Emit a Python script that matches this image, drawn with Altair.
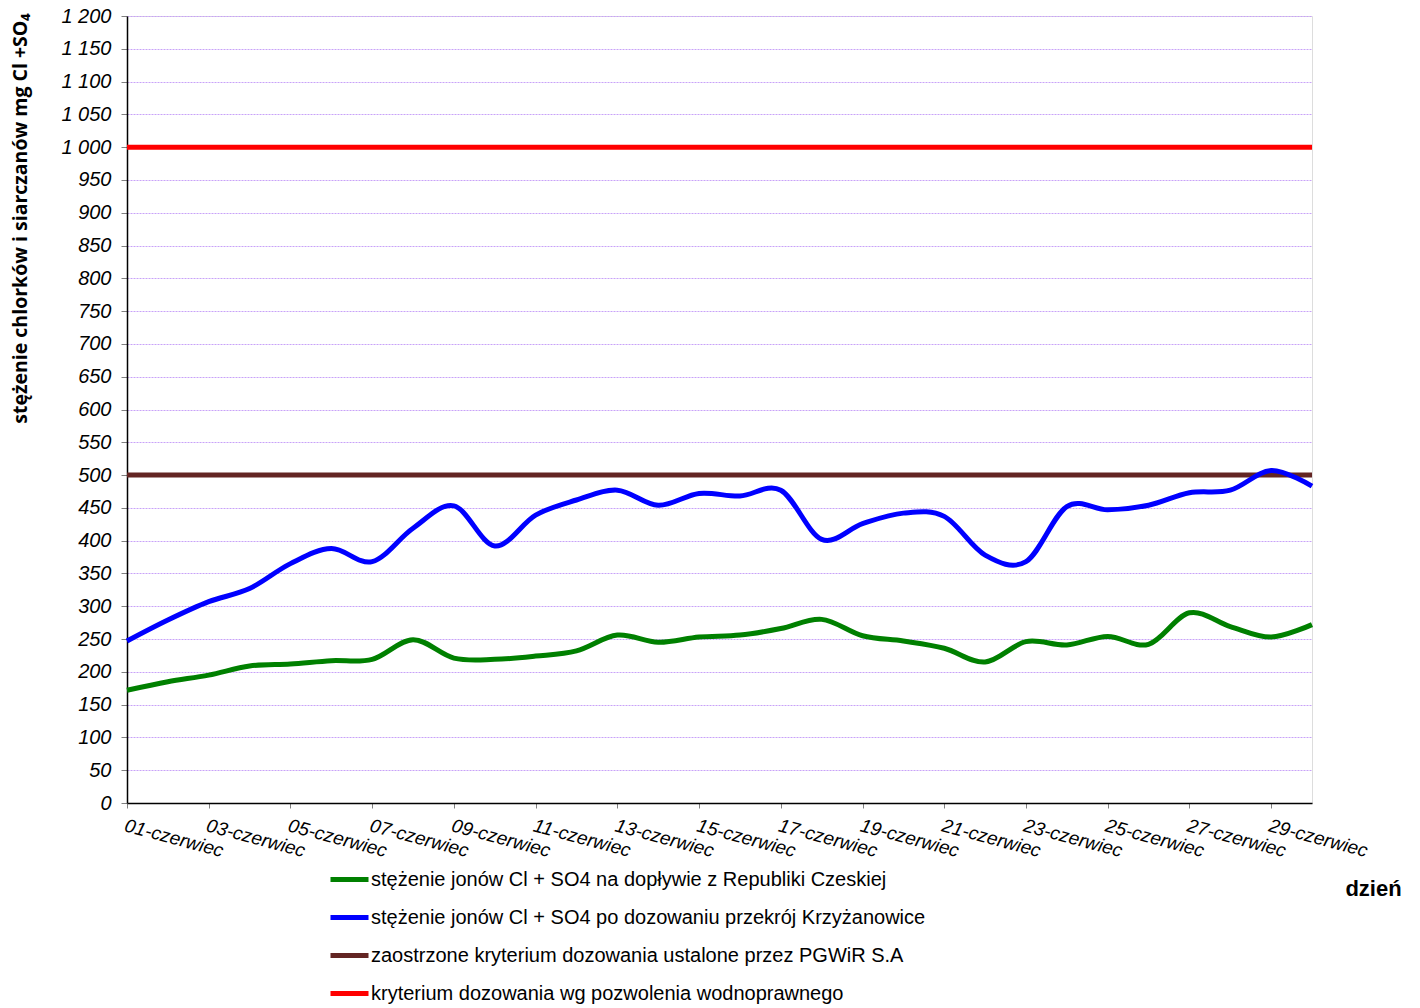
import altair as alt
import pandas as pd

days = list(range(1, 31))

green_vals = [172, 185, 195, 209, 212, 217, 219, 249, 221, 219,
              224, 232, 256, 245, 253, 256, 266, 280, 255, 247,
              236, 215, 246, 241, 254, 242, 290, 269, 253, 272]

blue_vals = [247, 279, 307, 327, 365, 388, 368, 419, 453, 392,
             439, 462, 477, 454, 472, 468, 477, 402, 426, 442,
             437, 378, 368, 452, 447, 454, 473, 477, 507, 483]

limit_pgwir = 500
limit_permit = 1000

s_green = "stężenie jonów Cl + SO4 na dopływie z Republiki Czeskiej"
s_blue = "stężenie jonów Cl + SO4 po dozowaniu przekrój Krzyżanowice"
s_brown = "zaostrzone kryterium dozowania ustalone przez PGWiR S.A"
s_red = "kryterium dozowania wg pozwolenia wodnoprawnego"

series_order = [s_green, s_blue, s_brown, s_red]
series_colors = ["#008000", "#0000FF", "#632523", "#FF0000"]

y_ticks = list(range(0, 1201, 50))
x_ticks = list(range(1, 30, 2))

const_df = pd.DataFrame({
    "day": [1, 30, 1, 30],
    "value": [limit_permit, limit_permit, limit_pgwir, limit_pgwir],
    "series": [s_red, s_red, s_brown, s_brown],
})

series_df = pd.DataFrame({
    "day": days + days,
    "value": green_vals + blue_vals,
    "series": [s_green] * len(days) + [s_blue] * len(days),
})

label_font = "Liberation Sans"

x_enc = alt.X(
    "day:Q",
    scale=alt.Scale(domain=[1, 30], nice=False, zero=False),
    axis=alt.Axis(
        values=x_ticks,
        labelExpr="(datum.value < 10 ? '0' : '') + datum.value + '-czerwiec'",
        labelAngle=15,
        labelAlign="left",
        labelBaseline="top",
        labelPadding=8,
        labelFont=label_font,
        labelFontStyle="italic",
        labelFontSize=19,
        labelColor="#000000",
        labelOverlap=False,
        labelFlush=False,
        tickSize=5,
        tickColor="#808080",
        domainColor="#000000",
        domainWidth=1.5,
        grid=False,
        title="dzień",
        titleFont=label_font,
        titleFontSize=22,
        titleFontWeight="bold",
        titleColor="#000000",
        titleX=1246,
        titleY=85,
        titleAlign="center",
        titleBaseline="middle",
    ),
)

y_enc = alt.Y(
    "value:Q",
    scale=alt.Scale(domain=[0, 1200], nice=False),
    axis=alt.Axis(
        values=y_ticks,
        labelExpr="replace(format(datum.value, ','), ',', ' ')",
        labelFont=label_font,
        labelFontStyle="italic",
        labelFontSize=20,
        labelColor="#000000",
        labelPadding=10,
        tickSize=6,
        tickColor="#808080",
        domainColor="#000000",
        domainWidth=1.5,
        grid=True,
        gridColor="#c8a2f8",
        gridDash=[2, 1],
        gridWidth=1,
        title="stężenie chlorków i siarczanów mg Cl +SO₄",
        titleFont="Open Sans",
        titleFontSize=19.5,
        titleFontWeight="bold",
        titleColor="#000000",
        titleAngle=-90,
        titleX=-107,
        titleY=202,
        titleAlign="center",
        titleBaseline="middle",
    ),
)

color_enc = alt.Color(
    "series:N",
    scale=alt.Scale(domain=series_order, range=series_colors),
    sort=series_order,
    legend=alt.Legend(
        title=None,
        orient="none",
        legendX=201,
        legendY=842,
        direction="vertical",
        symbolType="stroke",
        symbolSize=1444,
        symbolStrokeWidth=5,
        labelFont=label_font,
        labelFontSize=20,
        labelColor="#000000",
        labelLimit=800,
        labelOffset=0,
        rowPadding=6,
    ),
)

const_layer = alt.Chart(const_df).mark_line(strokeWidth=5).encode(
    x=x_enc, y=y_enc, color=color_enc
)

series_layer = alt.Chart(series_df).mark_line(
    strokeWidth=5, interpolate="cardinal"
).encode(x=x_enc, y=y_enc, color=color_enc)

chart = alt.layer(const_layer, series_layer).properties(
    width=1185,
    height=787,
    autosize=alt.AutoSizeParams(type="none"),
    padding={"left": 119, "top": 8, "right": 100, "bottom": 204},
).configure_view(
    stroke="#808080", strokeWidth=2
).configure(background="#ffffff")

chart.save("out.html", embed_options={"renderer": "svg", "actions": False})
